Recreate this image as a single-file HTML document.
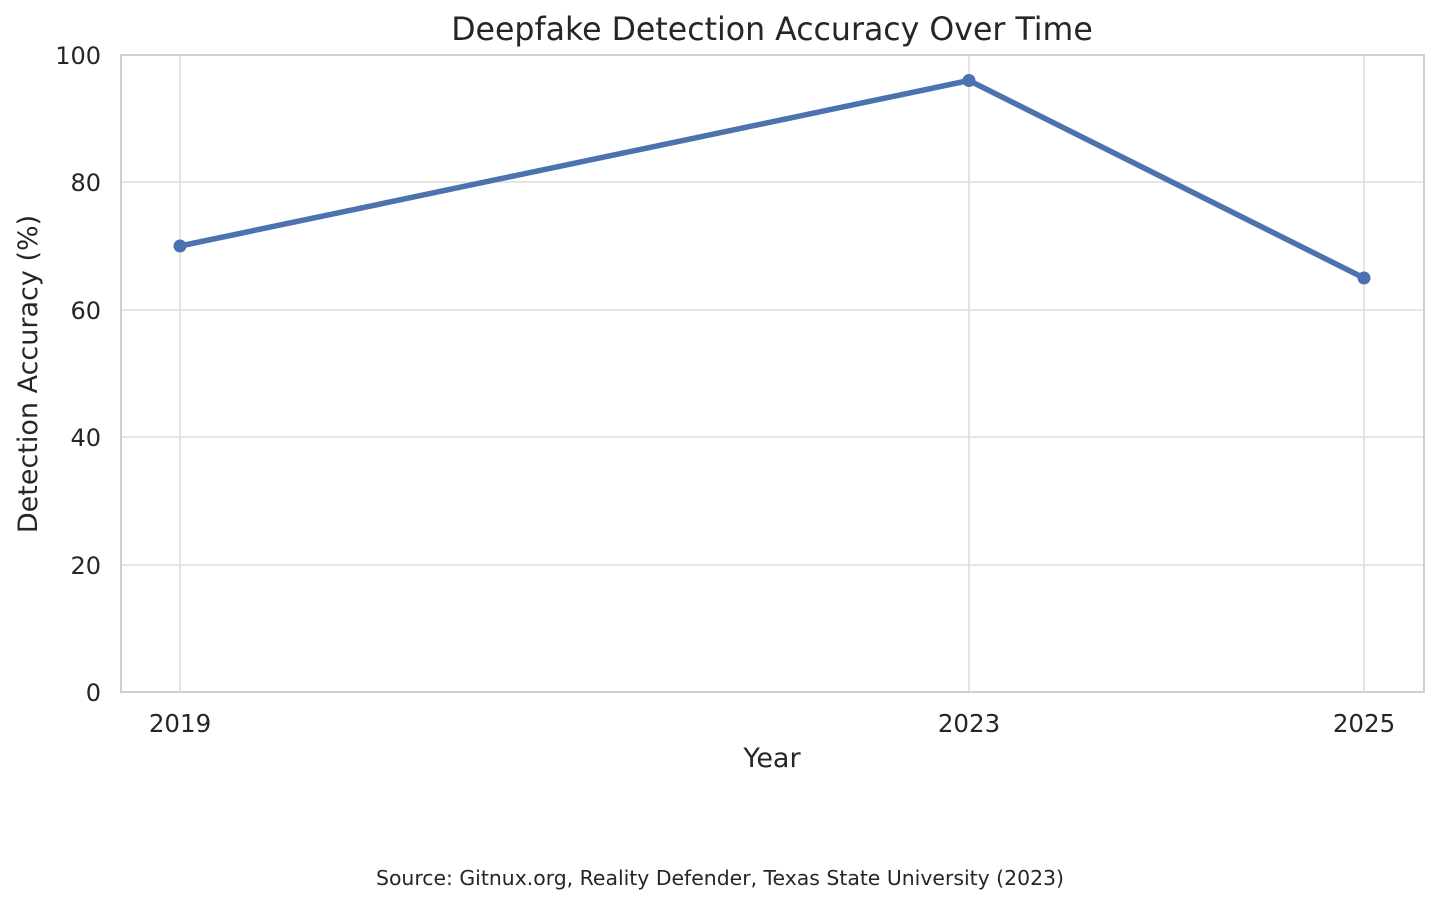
<!DOCTYPE html>
<html><head><style>
html,body{margin:0;padding:0;background:#fff;}
svg{display:block;font-family:"DejaVu Sans","Liberation Sans",sans-serif;}
</style></head><body>
<svg width="1440" height="905" viewBox="0 0 1440 905" xmlns="http://www.w3.org/2000/svg">
<rect width="1440" height="905" fill="#fff"/>
<g stroke="#dddddd" stroke-width="1.6">
<line x1="121" x2="1424" y1="182" y2="182"/>
<line x1="121" x2="1424" y1="310" y2="310"/>
<line x1="121" x2="1424" y1="437" y2="437"/>
<line x1="121" x2="1424" y1="565" y2="565"/>
<line x1="180" x2="180" y1="55" y2="692"/>
<line x1="969" x2="969" y1="55" y2="692"/>
<line x1="1364" x2="1364" y1="55" y2="692"/>
</g>
<rect x="121" y="55" width="1303" height="637" fill="none" stroke="#d0d0d0" stroke-width="2"/>
<g fill="#262626" font-size="24" text-anchor="end">
<text x="101" y="701">0</text>
<text x="101" y="574">20</text>
<text x="101" y="446">40</text>
<text x="101" y="319">60</text>
<text x="101" y="191">80</text>
<text x="101" y="64">100</text>
</g>
<g fill="#262626" font-size="24.5" text-anchor="middle">
<text x="180" y="732">2019</text>
<text x="969" y="732">2023</text>
<text x="1364" y="732">2025</text>
<text x="772" y="767" font-size="27">Year</text>
<text x="772" y="40" font-size="31.6">Deepfake Detection Accuracy Over Time</text>
<text x="720" y="885" font-size="20.4">Source: Gitnux.org, Reality Defender, Texas State University (2023)</text>
<text transform="translate(37,374) rotate(-90)" font-size="27">Detection Accuracy (%)</text>
</g>
<polyline points="180,246 969,80.5 1364,278" fill="none" stroke="#4c72b0" stroke-width="5.5" stroke-linejoin="round" stroke-linecap="round"/>
<g fill="#4c72b0">
<circle cx="180" cy="246" r="6.5"/>
<circle cx="969" cy="80.5" r="6.5"/>
<circle cx="1364" cy="278" r="6.5"/>
</g>
</svg>
</body></html>
